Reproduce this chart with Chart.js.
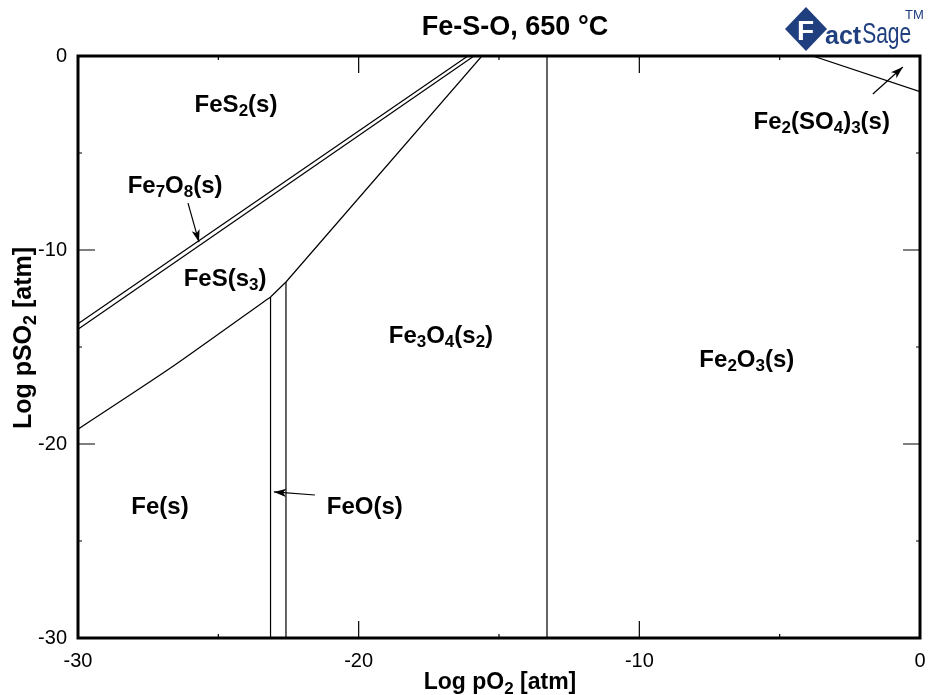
<!DOCTYPE html>
<html>
<head>
<meta charset="utf-8">
<title>Fe-S-O, 650 °C</title>
<script src="https://cdn.jsdelivr.net/npm/chart.js@4.4.1/dist/chart.umd.min.js"></script>
<style>
  html, body { margin: 0; padding: 0; background: #fff; overflow: hidden; }
  canvas { display: block; }
</style>
</head>
<body>
<canvas id="diagram" width="929" height="695"></canvas>
<script>
  // Axis range and ticks (log pO2 on x, log pSO2 on y)
  const xRange = [-30, 0];
  const yRange = [-30, 0];
  const tickValues = [-30, -20, -10, 0];

  // Phase boundaries
  const fe7o8UpperX = [-30, -16.11];
  const fe7o8UpperY = [-13.8, 0];
  const fe7o8LowerX = [-30, -15.89];
  const fe7o8LowerY = [-14.08, 0];
  const fesMagX = [-23.14, -22.59, -15.61];
  const fesMagY = [-12.42, -11.65, 0];
  const fesFeX = [-30, -26.72, -23.14];
  const fesFeY = [-19.24, -16.1, -12.42];
  const feFeoX = [-23.14, -23.14];
  const feFeoY = [-12.42, -30];
  const feoMagX = [-22.59, -22.59];
  const feoMagY = [-11.65, -30];
  const magHemX = [-13.29, -13.29];
  const magHemY = [0, -30];
  const hemSulfX = [-3.82, 0];
  const hemSulfY = [0, -1.84];

  // Pointer arrows (tail -> head)
  const arrowFe7o8X = [-26.08, -25.69];
  const arrowFe7o8Y = [-7.58, -9.59];
  const arrowFeoX = [-21.56, -23.02];
  const arrowFeoY = [-22.63, -22.47];
  const arrowSulfX = [-1.68, -0.61];
  const arrowSulfY = [-1.96, -0.57];

  // Phase field labels (digits are drawn as subscripts)
  const phaseNames = ['FeS2(s)', 'Fe7O8(s)', 'FeS(s3)', 'Fe3O4(s2)', 'Fe2O3(s)', 'Fe(s)', 'FeO(s)', 'Fe2(SO4)3(s)'];
  const phaseX = [-24.37, -26.54, -24.76, -17.07, -6.17, -27.08, -19.78, -3.5];
  const phaseY = [-2.42, -6.6, -11.39, -14.33, -15.57, -23.14, -23.14, -3.3];

  const FONT = "'Liberation Sans', Arial, sans-serif";

  function pts(xs, ys) {
    return xs.map((x, i) => ({ x: x, y: ys[i] }));
  }

  function lineSet(xs, ys, extra) {
    return Object.assign({
      data: pts(xs, ys),
      showLine: true,
      borderColor: '#000',
      borderWidth: 1.2,
      pointRadius: 0,
      fill: false,
      tension: 0
    }, extra || {});
  }

  // text with numeric subscripts
  function chemWidth(ctx, text, size) {
    let w = 0;
    for (const ch of text) {
      const sub = /[0-9]/.test(ch);
      ctx.font = 'bold ' + (sub ? Math.round(size * 0.72) : size) + 'px ' + FONT;
      w += ctx.measureText(ch).width;
    }
    return w;
  }

  function drawChem(ctx, text, x, y, size) {
    let cx = x - chemWidth(ctx, text, size) / 2;
    ctx.textBaseline = 'alphabetic';
    ctx.textAlign = 'left';
    for (const ch of text) {
      const sub = /[0-9]/.test(ch);
      ctx.font = 'bold ' + (sub ? Math.round(size * 0.72) : size) + 'px ' + FONT;
      ctx.fillText(ch, cx, y + size * 0.36 + (sub ? size * 0.2 : 0));
      cx += ctx.measureText(ch).width;
    }
  }

  const diagramPlugin = {
    id: 'diagram',
    afterDatasetsDraw(chart) {
      const ctx = chart.ctx;
      const xs = chart.scales.x, ys = chart.scales.y;
      const a = chart.chartArea;
      ctx.save();

      // arrowheads
      chart.data.datasets.forEach(ds => {
        if (!ds.arrow) return;
        const p0 = ds.data[0], p1 = ds.data[ds.data.length - 1];
        const x0 = xs.getPixelForValue(p0.x), y0 = ys.getPixelForValue(p0.y);
        const x1 = xs.getPixelForValue(p1.x), y1 = ys.getPixelForValue(p1.y);
        const ang = Math.atan2(y1 - y0, x1 - x0);
        const len = 13, half = 0.32;
        ctx.fillStyle = '#000';
        ctx.beginPath();
        ctx.moveTo(x1, y1);
        ctx.lineTo(x1 - len * Math.cos(ang - half), y1 - len * Math.sin(ang - half));
        ctx.lineTo(x1 - len * 0.7 * Math.cos(ang), y1 - len * 0.7 * Math.sin(ang));
        ctx.lineTo(x1 - len * Math.cos(ang + half), y1 - len * Math.sin(ang + half));
        ctx.closePath();
        ctx.fill();
      });

      // frame
      ctx.strokeStyle = '#000';
      ctx.lineWidth = 3;
      ctx.strokeRect(a.left, a.top, a.right - a.left, a.bottom - a.top);

      // inward tick marks
      ctx.lineWidth = 1.2;
      ctx.beginPath();
      for (let v = -25; v < 0; v += 5) {
        const major = v % 10 === 0;
        const L = major ? 17 : 4;
        const px = xs.getPixelForValue(v);
        ctx.moveTo(px, a.bottom); ctx.lineTo(px, a.bottom - L);
        ctx.moveTo(px, a.top); ctx.lineTo(px, a.top + L);
        const py = ys.getPixelForValue(v);
        ctx.moveTo(a.left, py); ctx.lineTo(a.left + L, py);
        ctx.moveTo(a.right, py); ctx.lineTo(a.right - L, py);
      }
      ctx.stroke();

      // phase labels
      ctx.fillStyle = '#000';
      phaseNames.forEach((name, i) => {
        drawChem(ctx, name, xs.getPixelForValue(phaseX[i]), ys.getPixelForValue(phaseY[i]), 24);
      });

      // title
      ctx.font = 'bold 27px ' + FONT;
      ctx.textAlign = 'center';
      ctx.textBaseline = 'middle';
      ctx.fillText('Fe-S-O, 650 °C', 515, 28);

      // axis titles
      drawChem(ctx, 'Log pO2 [atm]', 500, 681, 23);
      ctx.save();
      ctx.translate(22, 338);
      ctx.rotate(-Math.PI / 2);
      drawChem(ctx, 'Log pSO2 [atm]', 0, 0, 25);
      ctx.restore();

      // FactSage mark
      const blue = '#1f3f7e';
      ctx.fillStyle = blue;
      ctx.beginPath();
      ctx.moveTo(785, 29); ctx.lineTo(806, 7); ctx.lineTo(827, 29); ctx.lineTo(806, 51);
      ctx.closePath();
      ctx.fill();
      ctx.fillStyle = '#fff';
      ctx.font = 'bold 28px ' + FONT;
      ctx.textAlign = 'left';
      ctx.textBaseline = 'alphabetic';
      ctx.fillText('F', 797, 40);
      ctx.fillStyle = blue;
      ctx.font = 'bold 25px ' + FONT;
      ctx.fillText('act', 825, 44);
      const sx = 825 + ctx.measureText('act').width + 1;
      ctx.save();
      ctx.translate(sx, 43);
      ctx.scale(0.7, 1);
      ctx.font = '30px ' + FONT;
      ctx.fillText('Sage', 0, 0);
      ctx.restore();
      ctx.font = '13px ' + FONT;
      ctx.fillText('TM', 905, 19);

      ctx.restore();
    }
  };

  new Chart(document.getElementById('diagram'), {
    type: 'scatter',
    data: {
      datasets: [
        lineSet(fe7o8UpperX, fe7o8UpperY),
        lineSet(fe7o8LowerX, fe7o8LowerY),
        lineSet(fesMagX, fesMagY),
        lineSet(fesFeX, fesFeY, { tension: 0.2 }),
        lineSet(feFeoX, feFeoY),
        lineSet(feoMagX, feoMagY),
        lineSet(magHemX, magHemY),
        lineSet(hemSulfX, hemSulfY),
        lineSet(arrowFe7o8X, arrowFe7o8Y, { arrow: true }),
        lineSet(arrowFeoX, arrowFeoY, { arrow: true }),
        lineSet(arrowSulfX, arrowSulfY, { arrow: true })
      ]
    },
    options: {
      responsive: false,
      animation: false,
      layout: { padding: { top: 56, right: 9, left: 0, bottom: 0 } },
      plugins: { legend: { display: false }, tooltip: { enabled: false } },
      scales: {
        x: {
          type: 'linear',
          min: xRange[0], max: xRange[1],
          afterFit(scale) { scale.height = 57; scale.paddingLeft = 0; scale.paddingRight = 0; },
          afterBuildTicks(scale) { scale.ticks = tickValues.map(v => ({ value: v })); },
          grid: { display: false, drawTicks: false },
          border: { display: false },
          ticks: { color: '#000', padding: 11, font: { family: FONT, size: 20 }, maxRotation: 0 }
        },
        y: {
          type: 'linear',
          min: yRange[0], max: yRange[1],
          afterFit(scale) { scale.width = 78; scale.paddingTop = 0; scale.paddingBottom = 0; },
          afterBuildTicks(scale) { scale.ticks = tickValues.map(v => ({ value: v })); },
          grid: { display: false, drawTicks: false },
          border: { display: false },
          ticks: { color: '#000', padding: 11, font: { family: FONT, size: 20 } }
        }
      }
    },
    plugins: [diagramPlugin]
  });
</script>
</body>
</html>
